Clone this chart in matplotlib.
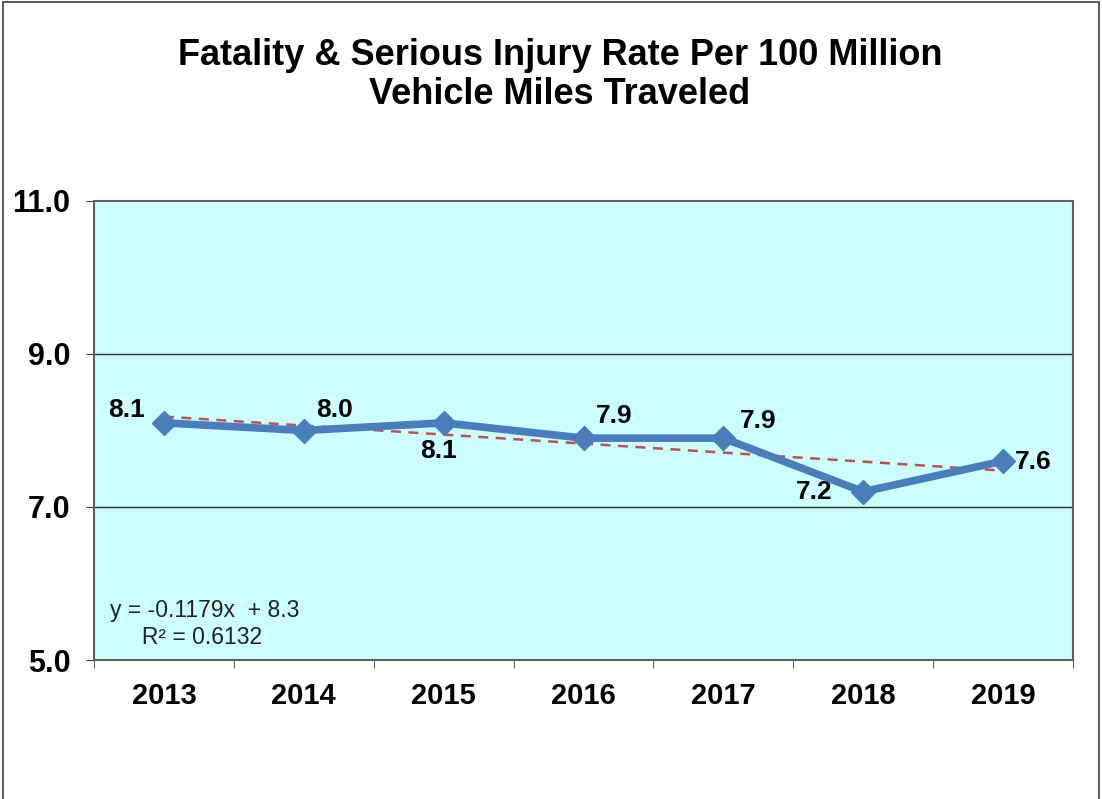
import numpy as np
import matplotlib.pyplot as plt
from matplotlib.patches import Rectangle

plt.rcParams['font.family'] = ['Liberation Sans', 'DejaVu Sans']

years = ["2013", "2014", "2015", "2016", "2017", "2018", "2019"]
rates = [8.1, 8.0, 8.1, 7.9, 7.9, 7.2, 7.6]
y_ticks = [5.0, 7.0, 9.0, 11.0]

# label offsets in points (dx, dy) for each data label
label_offsets = [(-27, 9), (22, 15), (-4, -20), (22, 16), (25, 12), (-35, 0), (22, -1)]

fig = plt.figure(figsize=(11.02, 7.99), dpi=100)
ax = fig.add_axes([94 / 1102, 1 - 660 / 799, (1073 - 94) / 1102, (660 - 201) / 799])
ax.set_facecolor("#CCFFFF")

x = np.arange(len(years))

# linear trend, Excel style (x = 1..n)
coef = np.polyfit(x + 1, rates, 1)
trend = np.polyval(coef, x + 1)

ax.plot(x, trend, color="#C0504D", lw=1.8, ls=(0, (4, 3)), zorder=3)
ax.plot(x, rates, color="#4A7EBB", lw=5.5, marker="D", ms=12, zorder=4)

for i, v in enumerate(rates):
    ax.annotate(f"{v:.1f}", (x[i], v), xytext=label_offsets[i], textcoords="offset points",
                ha="center", va="center", fontsize=19, fontweight="bold")

ax.text(0.016, 0.025, "y = -0.1179x  + 8.3\n     R² = 0.6132", transform=ax.transAxes,
        fontsize=16.5, ha="left", va="bottom", linespacing=1.2, color="#222222")

ax.set_xlim(-0.5, len(years) - 0.5)
ax.set_ylim(5, 11)
ax.set_yticks(y_ticks)
ax.set_yticklabels([f"{t:.1f}" for t in y_ticks], fontsize=22, fontweight="bold")
ax.set_xticks(x)
ax.set_xticklabels(years, fontsize=21, fontweight="bold")
ax.set_xticks(np.arange(-0.5, len(years), 1), minor=True)
ax.tick_params(axis="x", which="major", length=0, pad=16)
ax.tick_params(axis="x", which="minor", length=6, direction="out", color="#404040")
ax.tick_params(axis="y", length=6, direction="out", color="#404040", pad=11)

for t in [7.0, 9.0]:
    ax.axhline(t, color="#303030", lw=1, zorder=1)
for s in ax.spines.values():
    s.set_color("#606060")
    s.set_linewidth(1.5)

fig.text(0.508, 0.906, "Fatality & Serious Injury Rate Per 100 Million\nVehicle Miles Traveled",
         ha="center", va="center", fontsize=26, fontweight="bold", linespacing=1.12)

fig.patches.append(Rectangle((3 / 1102, -0.01), 1096 / 1102, 1.007, transform=fig.transFigure,
                             fill=False, edgecolor="#404040", lw=1.2))

fig.savefig("out.png", dpi=100)
